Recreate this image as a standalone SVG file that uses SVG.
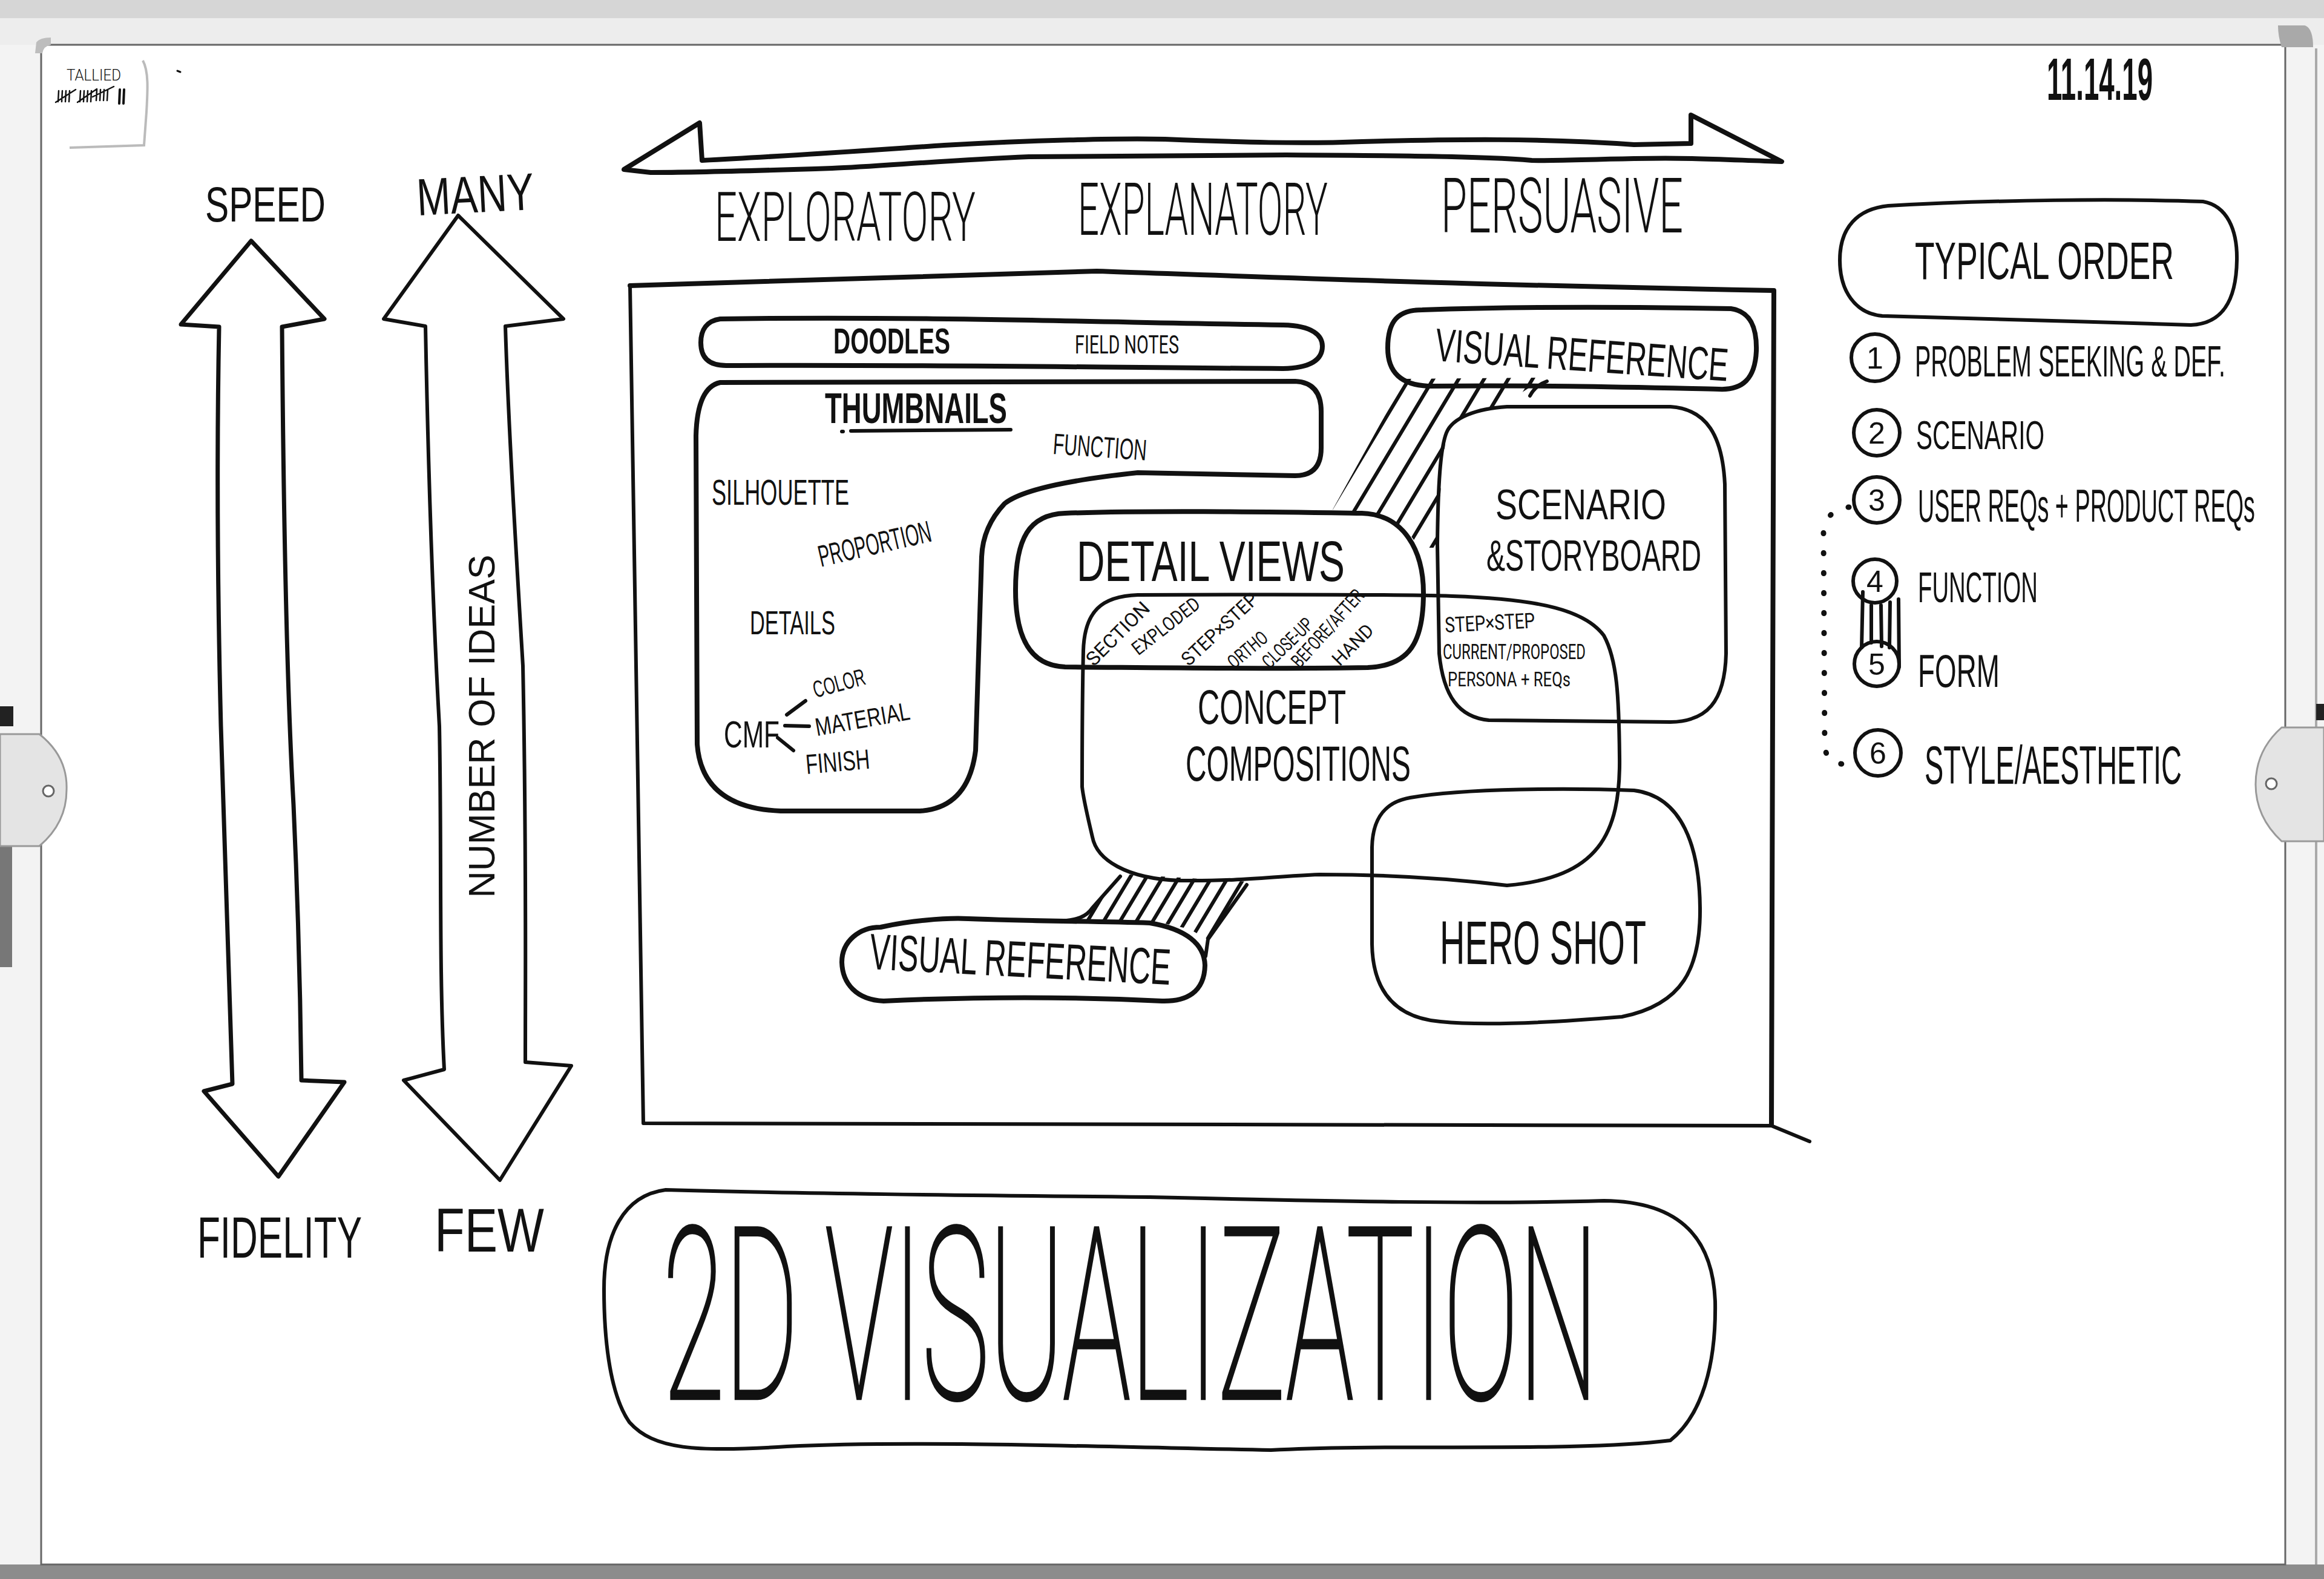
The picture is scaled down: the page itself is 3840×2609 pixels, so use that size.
<svg xmlns="http://www.w3.org/2000/svg" width="3840" height="2609" viewBox="0 0 3840 2609">
<defs>
<style>
.ln{fill:none;stroke:#111;stroke-width:6;stroke-linecap:round;stroke-linejoin:round}
.lt{fill:none;stroke:#111;stroke-width:4.5;stroke-linecap:round;stroke-linejoin:round}
.hv{fill:none;stroke:#111;stroke-width:8;stroke-linecap:round;stroke-linejoin:round}
.hatch{fill:none;stroke:#111;stroke-width:6;stroke-linecap:round}
.dots{fill:none;stroke:#111;stroke-width:9;stroke-linecap:round;stroke-dasharray:1 32}
.m{font-family:"Liberation Sans",Arial,sans-serif;fill:#111}
.b{font-weight:700}
.r{font-family:Roboto,"Open Sans","Liberation Sans",sans-serif;fill:#111;font-weight:300}
.n{font-family:Roboto,"Open Sans","Liberation Sans",sans-serif;fill:#111;font-weight:400}
.th{font-family:Roboto,"Open Sans","Liberation Sans",sans-serif;fill:#111;font-weight:100;stroke:#111;stroke-width:3}
.c{text-anchor:middle}
</style>
<clipPath id="clipTop"><polygon points="2322,626 2552,624 2482,670 2421,684 2390,712 2381,800 2375,905 2346,905 2330,884 2280,853 2202,842"/></clipPath>
<clipPath id="clipBot"><polygon points="1851,1444 2064,1457 1997,1553 1965,1535 1920,1525 1790,1520 1756,1522 1792,1510 1815,1490"/></clipPath>
</defs>

<g id="whiteboard">
<rect x="0" y="0" width="3840" height="2609" fill="#f3f3f3"/>
<rect x="0" y="0" width="3840" height="30" fill="#d6d6d6"/>
<rect x="0" y="30" width="3840" height="44" fill="#ededed"/>
<rect x="0" y="2585" width="3840" height="24" fill="#8c8c8c"/>
<rect x="68" y="74" width="3708" height="2511" fill="#ffffff" stroke="#666" stroke-width="3"/>
<rect x="0" y="1398" width="20" height="200" fill="#777"/>
<line x1="3827" y1="80" x2="3827" y2="2585" stroke="#aaa" stroke-width="4"/>
<path d="M58,88 L60,70 Q66,62 84,62 L84,74 Q72,76 70,88 Z" fill="#bdbdbd"/>
<path d="M3764,42 L3808,42 Q3822,46 3822,78 L3770,78 Q3764,60 3764,42 Z" fill="#a9a9a9"/>
<path d="M0,1167 L22,1167 L22,1200 L0,1200 Z" fill="#222"/>
<path d="M0,1213 L65,1213 Q112,1250 110,1305 Q110,1360 65,1398 L0,1398 Z" fill="#e4e4e4" stroke="#999" stroke-width="3"/>
<circle cx="80" cy="1307" r="9" fill="#fff" stroke="#666" stroke-width="3"/>
<path d="M3827,1163 L3840,1163 L3840,1190 L3827,1190 Z" fill="#222"/>
<path d="M3840,1202 L3770,1202 Q3727,1240 3727,1296 Q3727,1350 3770,1390 L3840,1390 Z" fill="#e4e4e4" stroke="#999" stroke-width="3"/>
<circle cx="3753" cy="1295" r="9" fill="#fff" stroke="#666" stroke-width="3"/>
</g>

<g id="tally-note">
<path d="M236,100 C246,118 244,150 242,185 L238,240 L115,244" fill="none" stroke="#bbb" stroke-width="4"/>
<text class="r" x="110" y="133" font-size="26" textLength="90" lengthAdjust="spacingAndGlyphs">TALLIED</text>
<path class="lt" style="stroke-width:2.5" d="M97,150 L96,168 M103,150 L102,168 M109,150 L108,168 M115,150 L114,168 M92,169 L125,148 M133,150 L132,168 M139,150 L138,168 M145,150 L144,168 M151,150 L150,168 M128,169 L160,147 M160,148 L159,166 M166,148 L165,166 M172,148 L171,166 M178,148 L177,166 M153,160 L188,143"/>
<path class="lt" style="stroke-width:4" d="M198,148 L197,171 M205,148 L204,171"/>
<path class="lt" style="stroke-width:3" d="M293,117 L298,119"/>
</g>

<g id="date"><text class="m b" transform="translate(3382,165) scale(1,2.2)" font-size="45" textLength="175" lengthAdjust="spacingAndGlyphs">11.14.19</text></g>

<g id="axis-speed-fidelity">
<path class="hv" style="stroke-width:7" d="M415,398 L536,527 L466,540 C468,800 472,1100 485,1330 C495,1550 497,1700 498,1785 L569,1788 L460,1944 L337,1803 L384,1791 C378,1600 372,1400 365,1200 C360,1000 358,750 362,540 L299,536 Z"/>
<text class="m" transform="translate(339,366) scale(1,1.4)" font-size="58.7" textLength="199" lengthAdjust="spacingAndGlyphs">SPEED</text>
<text class="m" transform="translate(326,2078) scale(1,1.55)" font-size="62" textLength="272" lengthAdjust="spacingAndGlyphs">FIDELITY</text>
</g>

<g id="axis-number-of-ideas">
<path class="ln" d="M757,356 L931,527 L835,539 C840,700 852,900 864,1100 C870,1400 868,1600 868,1755 L944,1761 L826,1950 L667,1785 L734,1767 C725,1600 730,1400 726,1200 C715,1000 708,800 703,539 L634,527 Z"/>
<text class="m" transform="translate(690,356) rotate(-3) scale(1,1.29)" font-size="67" textLength="194" lengthAdjust="spacingAndGlyphs">MANY</text>
<text class="m" transform="translate(718,2068) scale(1,1.27)" font-size="81" textLength="181" lengthAdjust="spacingAndGlyphs">FEW</text>
<text class="m c" transform="translate(817,1200) rotate(-90)" font-size="61" textLength="567" lengthAdjust="spacingAndGlyphs">NUMBER OF IDEAS</text>
</g>

<g id="axis-top">
<path class="hv" d="M1156,203 L1160,265 C1300,258 1440,248 1560,240 C1700,232 1850,228 1925,230 C2050,235 2150,238 2250,234 C2400,230 2550,228 2700,239 L2794,237 L2794,190 L2944,267 C2850,264 2800,260 2700,262 C2600,264 2560,266 2531,265 C2450,258 2300,257 2125,256 C1950,256 1800,257 1700,259 C1560,265 1450,275 1375,278 C1250,282 1150,285 1075,285 L1031,280 Z"/>
<text class="r" transform="translate(1181,398) scale(1,1.84)" font-size="61.8" textLength="431" lengthAdjust="spacingAndGlyphs">EXPLORATORY</text>
<text class="r" transform="translate(1781,388) scale(1,2.0)" font-size="60" textLength="413" lengthAdjust="spacingAndGlyphs">EXPLANATORY</text>
<text class="r" transform="translate(2381,384) scale(1,1.87)" font-size="67" textLength="400" lengthAdjust="spacingAndGlyphs">PERSUASIVE</text>
</g>

<g id="frame">
<path class="hv" d="M1041,472 C1250,467 1500,460 1812,448 C2100,458 2400,470 2931,480 L2927,1858"/>
<path class="ln" d="M1041,472 L1063,1856 L2927,1860 L2990,1886"/>
</g>

<g id="doodles">
<path class="hv" d="M1190,527 C1500,522 1800,532 2120,537 C2170,538 2185,555 2185,572 C2185,595 2165,608 2120,609 C1800,607 1500,602 1200,604 C1170,604 1158,590 1158,566 C1158,545 1168,530 1190,527 Z"/>
<text class="m b" transform="translate(1377,584) scale(1,1.54)" font-size="39" textLength="193" lengthAdjust="spacingAndGlyphs">DOODLES</text>
<text class="n" transform="translate(1776,584) scale(1,1.53)" font-size="28" textLength="172" lengthAdjust="spacingAndGlyphs">FIELD NOTES</text>
</g>

<g id="thumbnails">
<path class="hv" d="M1190,632 L2140,630 Q2183,632 2183,680 L2183,740 Q2183,786 2140,786 L1880,781 Q1700,800 1660,832 Q1624,870 1622,920 L1612,1240 Q1600,1335 1520,1340 L1290,1340 Q1160,1335 1152,1230 L1150,720 Q1152,640 1190,632 Z"/>
<text class="m b" transform="translate(1363,699) scale(1,1.56)" font-size="45.5" textLength="301" lengthAdjust="spacingAndGlyphs">THUMBNAILS</text>
<path class="ln" d="M1406,712 L1670,710 M1391,713 L1393,713"/>
<text class="m" transform="translate(1739,750) rotate(4) scale(1,1.63)" font-size="30" textLength="155" lengthAdjust="spacingAndGlyphs">FUNCTION</text>
<text class="m" transform="translate(1176,834) scale(1,1.66)" font-size="36" textLength="227" lengthAdjust="spacingAndGlyphs">SILHOUETTE</text>
<text class="m c" transform="translate(1445,898) rotate(-13) scale(1,1.77)" y="10" font-size="28.3" textLength="190" lengthAdjust="spacingAndGlyphs">PROPORTION</text>
<text class="m" transform="translate(1239,1048) scale(1,1.65)" font-size="33.8" textLength="141" lengthAdjust="spacingAndGlyphs">DETAILS</text>
<text class="m" transform="translate(1196,1235) scale(1,1.5)" font-size="42.5" textLength="92" lengthAdjust="spacingAndGlyphs">CMF</text>
<path class="ln" d="M1300,1181 L1331,1158 M1297,1199 L1337,1200 M1285,1219 L1311,1240"/>
<text class="m c" transform="translate(1386,1128) rotate(-15) scale(1,1.58)" y="9" font-size="24.7" textLength="88" lengthAdjust="spacingAndGlyphs">COLOR</text>
<text class="m c" transform="translate(1425,1188) rotate(-10) scale(1,1.33)" y="11" font-size="31.6" textLength="158" lengthAdjust="spacingAndGlyphs">MATERIAL</text>
<text class="m c" transform="translate(1384,1258) rotate(-5) scale(1,1.42)" y="11.6" font-size="32.3" textLength="106" lengthAdjust="spacingAndGlyphs">FINISH</text>
</g>

<g id="detail-views">
<path class="hv" d="M1760,848 C1900,843 2100,846 2250,848 C2320,850 2352,910 2352,980 C2352,1060 2330,1100 2260,1103 C2100,1106 1900,1103 1760,1102 C1700,1100 1678,1050 1678,975 C1678,890 1700,850 1760,848 Z"/>
<text class="m" transform="translate(1779,960) scale(1,1.48)" font-size="63.3" textLength="443" lengthAdjust="spacingAndGlyphs">DETAIL VIEWS</text>
<text class="n c" transform="translate(1847,1047) rotate(-45)" y="11" font-size="32" textLength="134" lengthAdjust="spacingAndGlyphs">SECTION</text>
<text class="n c" transform="translate(1926,1034) rotate(-38) scale(1,1.22)" y="9.4" font-size="26" textLength="133" lengthAdjust="spacingAndGlyphs">EXPLODED</text>
<text class="n c" transform="translate(2015,1039) rotate(-43) scale(1,1.08)" y="10.6" font-size="29.6" textLength="160" lengthAdjust="spacingAndGlyphs">STEP×STEP</text>
<text class="n c" transform="translate(2061,1073) rotate(-40) scale(1,1.4)" y="8.2" font-size="22.6" textLength="76" lengthAdjust="spacingAndGlyphs">ORTHO</text>
<text class="n c" transform="translate(2127,1062) rotate(-44) scale(1,1.47)" y="7.8" font-size="21.7" textLength="103" lengthAdjust="spacingAndGlyphs">CLOSE-UP</text>
<text class="n c" transform="translate(2193,1038) rotate(-48) scale(1,1.42)" y="8.1" font-size="22.6" textLength="161" lengthAdjust="spacingAndGlyphs">BEFORE/AFTER</text>
<text class="n c" transform="translate(2235,1065) rotate(-45)" y="11" font-size="31" textLength="82" lengthAdjust="spacingAndGlyphs">HAND</text>
</g>

<g id="concept-compositions">
<path class="ln" d="M1790,1075 C1792,1010 1820,985 1880,983 C2100,982 2300,982 2400,985 C2550,990 2620,1010 2650,1050 C2672,1090 2675,1150 2676,1250 C2678,1380 2640,1450 2490,1463 C2400,1452 2300,1445 2180,1445 C2100,1448 2060,1456 1950,1455 C1860,1452 1812,1420 1805,1383 C1795,1340 1790,1320 1788,1300 C1788,1200 1789,1120 1790,1075 Z"/>
<text class="m" transform="translate(1979,1196) scale(1,1.6)" font-size="50.1" textLength="245" lengthAdjust="spacingAndGlyphs">CONCEPT</text>
<text class="m" transform="translate(1959,1290) scale(1,1.7)" font-size="47.8" textLength="372" lengthAdjust="spacingAndGlyphs">COMPOSITIONS</text>
</g>

<g id="scenario-storyboard">
<path class="ln" d="M2390,715 C2400,690 2440,675 2490,672 L2760,672 C2820,676 2846,720 2850,800 L2852,1080 C2850,1160 2820,1192 2760,1193 L2460,1190 C2410,1185 2385,1150 2378,1080 L2375,900 C2376,800 2380,740 2390,715 Z"/>
<text class="m" transform="translate(2471,858) scale(1,1.3)" font-size="54" textLength="282" lengthAdjust="spacingAndGlyphs">SCENARIO</text>
<text class="m" transform="translate(2456,943) scale(1,1.57)" font-size="46.3" textLength="355" lengthAdjust="spacingAndGlyphs">&amp;STORYBOARD</text>
<text class="n" transform="translate(2388,1045) rotate(-3) scale(1,1.27)" font-size="27.6" textLength="149" lengthAdjust="spacingAndGlyphs">STEP×STEP</text>
<text class="n" transform="translate(2384,1089) scale(1,1.5)" font-size="23.4" textLength="236" lengthAdjust="spacingAndGlyphs">CURRENT/PROPOSED</text>
<text class="n" transform="translate(2392,1134) scale(1,1.35)" font-size="25.1" textLength="203" lengthAdjust="spacingAndGlyphs">PERSONA + REQs</text>
</g>

<g id="hero-shot">
<path class="ln" d="M2330,1318 C2420,1302 2600,1302 2700,1306 C2780,1316 2808,1400 2809,1500 C2810,1600 2780,1660 2680,1680 C2560,1690 2450,1695 2380,1688 C2290,1680 2268,1620 2267,1560 L2267,1400 C2268,1350 2290,1325 2330,1318 Z"/>
<text class="m" transform="translate(2379,1593) scale(1,1.78)" font-size="57.4" textLength="341" lengthAdjust="spacingAndGlyphs">HERO SHOT</text>
</g>

<g id="visual-reference-top">
<path class="hv" d="M2350,512 C2550,505 2750,508 2860,510 C2895,515 2903,545 2902,580 C2900,625 2880,645 2840,643 C2700,640 2550,636 2360,638 C2315,636 2293,615 2293,575 C2293,530 2310,512 2350,512 Z"/>
<text class="m c" transform="translate(2614,585) rotate(4) scale(1,1.59)" y="17.6" font-size="48.5" textLength="485" lengthAdjust="spacingAndGlyphs">VISUAL REFERENCE</text>
</g>

<g id="visual-reference-bottom">
<path class="hv" d="M1455,1532 C1500,1522 1560,1516 1600,1518 C1700,1522 1800,1522 1900,1525 C1960,1535 1990,1560 1991,1595 C1990,1640 1960,1655 1920,1654 C1800,1648 1650,1645 1460,1654 C1415,1652 1392,1625 1391,1590 C1391,1555 1420,1532 1455,1532 Z"/>
<text class="m c" transform="translate(1686,1584) rotate(3) scale(1,1.69)" y="17.8" font-size="49.8" textLength="498" lengthAdjust="spacingAndGlyphs">VISUAL REFERENCE</text>
</g>

<g id="typical-order">
<path class="ln" d="M3120,340 C3300,330 3500,328 3640,333 C3680,340 3697,380 3696,430 C3695,500 3670,535 3620,537 C3450,532 3250,525 3110,522 C3065,518 3040,480 3040,430 C3040,375 3070,345 3120,340 Z"/>
<text class="m" transform="translate(3164,461) scale(1,1.63)" font-size="53.3" textLength="428" lengthAdjust="spacingAndGlyphs">TYPICAL ORDER</text>
<g id="step-1"><circle class="ln" cx="3098" cy="591" r="39"/><text class="m c" x="3098" y="609" font-size="50">1</text>
<text class="m" transform="translate(3164,622) scale(1,1.86)" font-size="39.1" textLength="513" lengthAdjust="spacingAndGlyphs">PROBLEM SEEKING &amp; DEF.</text></g>
<g id="step-2"><circle class="ln" cx="3101" cy="715" r="38"/><text class="m c" x="3101" y="733" font-size="50">2</text>
<text class="m" transform="translate(3166,742) scale(1,1.62)" font-size="40.6" textLength="212" lengthAdjust="spacingAndGlyphs">SCENARIO</text></g>
<g id="step-3"><circle class="ln" cx="3101" cy="826" r="38"/><text class="m c" x="3101" y="844" font-size="50">3</text>
<text class="m" transform="translate(3169,862) scale(1,2.03)" font-size="37.8" textLength="557" lengthAdjust="spacingAndGlyphs">USER REQs + PRODUCT REQs</text></g>
<g id="step-4"><circle class="ln" cx="3098" cy="960" r="36"/><text class="m c" x="3098" y="978" font-size="50">4</text>
<text class="m" transform="translate(3169,995) scale(1,1.82)" font-size="38.3" textLength="198" lengthAdjust="spacingAndGlyphs">FUNCTION</text></g>
<g id="step-5"><circle class="ln" cx="3101" cy="1097" r="37"/><text class="m c" x="3101" y="1115" font-size="50">5</text>
<text class="m" transform="translate(3169,1135) scale(1,1.67)" font-size="45.9" textLength="135" lengthAdjust="spacingAndGlyphs">FORM</text></g>
<g id="step-6"><circle class="ln" cx="3103" cy="1244" r="38"/><text class="m c" x="3103" y="1262" font-size="50">6</text>
<text class="m" transform="translate(3180,1295) scale(1,1.9)" font-size="46.9" textLength="425" lengthAdjust="spacingAndGlyphs">STYLE/AESTHETIC</text></g>
</g>

<g id="title-2d-visualization">
<path class="ln" d="M1100,1966 C1300,1972 1600,1975 1900,1978 C2200,1985 2450,1990 2650,1984 C2780,1985 2830,2050 2834,2150 C2836,2260 2810,2340 2760,2380 C2600,2400 2300,2385 2100,2396 C1800,2390 1500,2380 1300,2390 C1150,2400 1080,2395 1040,2350 C1005,2300 998,2200 998,2130 C998,2040 1030,1975 1100,1966 Z"/>
<text class="th" transform="translate(1095,2310) scale(1,2.15)" font-size="183.6" textLength="1546" lengthAdjust="spacingAndGlyphs">2D VISUALIZATION</text>
</g>

<g id="connectors">
<g clip-path="url(#clipTop)">
<path class="hatch" d="M2332,620 L2152,920 M2372,620 L2192,920 M2414,620 L2234,920 M2456,620 L2276,920 M2496,620 L2316,920 M2536,620 L2356,920"/>
</g>
<path class="ln" d="M2528,654 C2535,640 2545,634 2556,630"/>
<g clip-path="url(#clipBot)">
<path class="hatch" d="M1852,1430 L1768,1570 M1879,1430 L1795,1570 M1906,1430 L1822,1570 M1933,1430 L1849,1570 M1960,1430 L1876,1570 M1987,1430 L1903,1570 M2014,1430 L1930,1570 M2041,1430 L1957,1570 M2068,1430 L1984,1570"/>
</g>
<path class="ln" d="M1752,1522 C1780,1520 1795,1515 1805,1500 L1851,1448"/>
<path class="ln" d="M1992,1580 L1996,1552 L2060,1462"/>
<path class="ln" d="M3078,978 L3076,1070 M3137,990 L3138,1102 M3092,1000 L3092,1062 M3108,1000 L3109,1068 M3123,995 L3122,1070"/>
<path class="dots" d="M3055,838 C3030,840 3015,855 3013,880 L3015,1230 C3016,1255 3030,1265 3058,1262"/>
</g>
</svg>
